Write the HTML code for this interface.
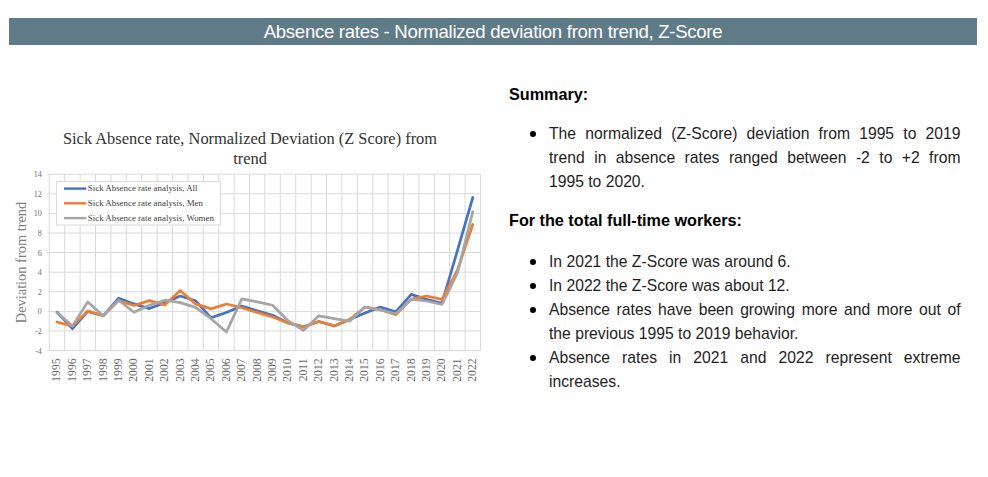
<!DOCTYPE html>
<html><head><meta charset="utf-8"><style>
html,body{margin:0;padding:0;background:#fff;width:988px;height:477px;overflow:hidden;position:relative}
.hdr{position:absolute;left:9px;top:18px;width:968px;height:27px;background:#607b88;color:#fff;font-family:"Liberation Sans",sans-serif;font-size:18.6px;letter-spacing:-0.3px;line-height:28.5px;text-align:center}
.chart{position:absolute;left:0;top:0}
.chart text{font-family:"Liberation Serif",serif}
.yl{font-size:8px;fill:#6e6e6e}
.xl{font-size:11.7px;fill:#6a6a6a}
.lg{font-size:8.9px;fill:#404040}
.tt{font-size:16.4px;fill:#333}
.at{font-size:14.4px;fill:#808080}
.txt{position:absolute;font-family:"Liberation Sans",sans-serif;font-size:15.7px;line-height:24px;color:#1e1e1e;white-space:nowrap}
.b{font-weight:bold;color:#000;font-size:16.2px}
.j{text-align:justify;text-align-last:justify;width:411.5px;white-space:normal}
.dot{position:absolute;width:6px;height:6px;border-radius:50%;background:#000}
</style></head><body>
<div class="hdr">Absence rates - Normalized deviation from trend, Z-Score</div>
<svg class="chart" width="988" height="477" viewBox="0 0 988 477"><path d="M49.3 174.2V350.6 M64.7 174.2V350.6 M80.1 174.2V350.6 M95.5 174.2V350.6 M110.9 174.2V350.6 M126.3 174.2V350.6 M141.7 174.2V350.6 M157.1 174.2V350.6 M172.5 174.2V350.6 M187.9 174.2V350.6 M203.3 174.2V350.6 M218.7 174.2V350.6 M234.1 174.2V350.6 M249.5 174.2V350.6 M264.9 174.2V350.6 M280.3 174.2V350.6 M295.7 174.2V350.6 M311.1 174.2V350.6 M326.5 174.2V350.6 M341.9 174.2V350.6 M357.3 174.2V350.6 M372.7 174.2V350.6 M388.1 174.2V350.6 M403.5 174.2V350.6 M418.9 174.2V350.6 M434.3 174.2V350.6 M449.7 174.2V350.6 M465.1 174.2V350.6 M480.5 174.2V350.6 M47.3 350.6H480.5 M47.3 331.0H480.5 M47.3 311.4H480.5 M47.3 291.8H480.5 M47.3 272.2H480.5 M47.3 252.6H480.5 M47.3 233.0H480.5 M47.3 213.4H480.5 M47.3 193.8H480.5 M47.3 174.2H480.5" stroke="#d9d9d9" stroke-width="1" fill="none"/>
<text x="41.8" y="353.6" text-anchor="end" class="yl">-4</text>
<text x="41.8" y="334.0" text-anchor="end" class="yl">-2</text>
<text x="41.8" y="314.4" text-anchor="end" class="yl">0</text>
<text x="41.8" y="294.8" text-anchor="end" class="yl">2</text>
<text x="41.8" y="275.2" text-anchor="end" class="yl">4</text>
<text x="41.8" y="255.6" text-anchor="end" class="yl">6</text>
<text x="41.8" y="236.0" text-anchor="end" class="yl">8</text>
<text x="41.8" y="216.4" text-anchor="end" class="yl">10</text>
<text x="41.8" y="196.8" text-anchor="end" class="yl">12</text>
<text x="41.8" y="177.2" text-anchor="end" class="yl">14</text>
<text transform="translate(60.4 358.4) rotate(-90)" text-anchor="end" class="xl">1995</text>
<text transform="translate(75.8 358.4) rotate(-90)" text-anchor="end" class="xl">1996</text>
<text transform="translate(91.2 358.4) rotate(-90)" text-anchor="end" class="xl">1997</text>
<text transform="translate(106.6 358.4) rotate(-90)" text-anchor="end" class="xl">1998</text>
<text transform="translate(122.0 358.4) rotate(-90)" text-anchor="end" class="xl">1999</text>
<text transform="translate(137.4 358.4) rotate(-90)" text-anchor="end" class="xl">2000</text>
<text transform="translate(152.8 358.4) rotate(-90)" text-anchor="end" class="xl">2001</text>
<text transform="translate(168.2 358.4) rotate(-90)" text-anchor="end" class="xl">2002</text>
<text transform="translate(183.6 358.4) rotate(-90)" text-anchor="end" class="xl">2003</text>
<text transform="translate(199.0 358.4) rotate(-90)" text-anchor="end" class="xl">2004</text>
<text transform="translate(214.4 358.4) rotate(-90)" text-anchor="end" class="xl">2005</text>
<text transform="translate(229.8 358.4) rotate(-90)" text-anchor="end" class="xl">2006</text>
<text transform="translate(245.2 358.4) rotate(-90)" text-anchor="end" class="xl">2007</text>
<text transform="translate(260.6 358.4) rotate(-90)" text-anchor="end" class="xl">2008</text>
<text transform="translate(276.0 358.4) rotate(-90)" text-anchor="end" class="xl">2009</text>
<text transform="translate(291.4 358.4) rotate(-90)" text-anchor="end" class="xl">2010</text>
<text transform="translate(306.8 358.4) rotate(-90)" text-anchor="end" class="xl">2011</text>
<text transform="translate(322.2 358.4) rotate(-90)" text-anchor="end" class="xl">2012</text>
<text transform="translate(337.6 358.4) rotate(-90)" text-anchor="end" class="xl">2013</text>
<text transform="translate(353.0 358.4) rotate(-90)" text-anchor="end" class="xl">2014</text>
<text transform="translate(368.4 358.4) rotate(-90)" text-anchor="end" class="xl">2015</text>
<text transform="translate(383.8 358.4) rotate(-90)" text-anchor="end" class="xl">2016</text>
<text transform="translate(399.2 358.4) rotate(-90)" text-anchor="end" class="xl">2017</text>
<text transform="translate(414.6 358.4) rotate(-90)" text-anchor="end" class="xl">2018</text>
<text transform="translate(430.0 358.4) rotate(-90)" text-anchor="end" class="xl">2019</text>
<text transform="translate(445.4 358.4) rotate(-90)" text-anchor="end" class="xl">2020</text>
<text transform="translate(460.8 358.4) rotate(-90)" text-anchor="end" class="xl">2021</text>
<text transform="translate(476.2 358.4) rotate(-90)" text-anchor="end" class="xl">2022</text>
<polyline points="57.0,312.0 72.4,328.7 87.8,311.4 103.2,315.8 118.6,298.2 134.0,303.9 149.4,308.6 164.8,302.8 180.2,296.0 195.6,300.7 211.0,317.8 226.4,312.4 241.8,306.1 257.2,310.7 272.6,315.3 288.0,322.9 303.4,326.9 318.8,321.5 334.2,325.9 349.6,319.5 365.0,312.9 380.4,307.0 395.8,311.9 411.2,294.4 426.6,299.4 442.0,303.2 457.4,250.6 472.8,197.5" fill="none" stroke="#4472c4" stroke-width="2.7" stroke-linejoin="round" stroke-linecap="round"/>
<polyline points="57.0,322.0 72.4,326.1 87.8,311.0 103.2,315.8 118.6,300.6 134.0,305.5 149.4,300.6 164.8,305.0 180.2,290.5 195.6,303.9 211.0,308.9 226.4,304.0 241.8,307.8 257.2,312.4 272.6,317.0 288.0,322.9 303.4,326.9 318.8,321.5 334.2,325.9 349.6,319.5 365.0,307.0 380.4,309.8 395.8,314.8 411.2,299.1 426.6,296.0 442.0,299.4 457.4,270.2 472.8,224.5" fill="none" stroke="#ed7d31" stroke-width="2.7" stroke-linejoin="round" stroke-linecap="round"/>
<polyline points="57.0,312.4 72.4,326.1 87.8,301.9 103.2,315.8 118.6,300.2 134.0,312.3 149.4,305.3 164.8,300.2 180.2,302.6 195.6,307.4 211.0,318.7 226.4,332.0 241.8,298.9 257.2,301.9 272.6,305.3 288.0,320.7 303.4,330.4 318.8,315.8 334.2,318.7 349.6,321.2 365.0,307.0 380.4,309.8 395.8,313.8 411.2,299.4 426.6,301.0 442.0,304.5 457.4,273.2 472.8,211.7" fill="none" stroke="#a5a5a5" stroke-width="2.7" stroke-linejoin="round" stroke-linecap="round"/>
<rect x="56.5" y="181.5" width="164" height="43.5" fill="#fff" stroke="#d9d9d9" stroke-width="1"/>
<path d="M64 188.6H86.3" stroke="#4472c4" stroke-width="2.4"/>
<text x="87.8" y="191.4" class="lg">Sick Absence rate analysis, All</text>
<path d="M64 203.3H86.3" stroke="#ed7d31" stroke-width="2.4"/>
<text x="87.8" y="206.2" class="lg">Sick Absence rate analysis, Men</text>
<path d="M64 218.1H86.3" stroke="#a5a5a5" stroke-width="2.4"/>
<text x="87.8" y="220.9" class="lg">Sick Absence rate analysis, Women</text>
<text x="250" y="144.3" text-anchor="middle" class="tt">Sick Absence rate, Normalized Deviation (Z Score) from</text>
<text x="250" y="164" text-anchor="middle" class="tt">trend</text>
<text transform="translate(26 262.5) rotate(-90)" text-anchor="middle" class="at">Deviation from trend</text></svg>
<div class="txt b" style="left:509px;top:81.56px">Summary:</div>
<div class="dot" style="left:530px;top:131.0px"></div>
<div class="txt j" style="left:549px;top:122.36px">The normalized (Z-Score) deviation from 1995 to 2019</div>
<div class="txt j" style="left:549px;top:146.36px">trend in absence rates ranged between -2 to +2 from</div>
<div class="txt" style="left:549px;top:170.16px">1995 to 2020.</div>
<div class="txt b" style="left:509px;top:208.46px">For the total full-time workers:</div>
<div class="dot" style="left:530px;top:258.9px"></div>
<div class="txt" style="left:549px;top:250.26px">In 2021 the Z-Score was around 6.</div>
<div class="dot" style="left:530px;top:282.8px"></div>
<div class="txt" style="left:549px;top:274.16px">In 2022 the Z-Score was about 12.</div>
<div class="dot" style="left:530px;top:306.9px"></div>
<div class="txt j" style="left:549px;top:298.26px">Absence rates have been growing more and more out of</div>
<div class="txt" style="left:549px;top:322.16px">the previous 1995 to 2019 behavior.</div>
<div class="dot" style="left:530px;top:355.1px"></div>
<div class="txt j" style="left:549px;top:346.46px">Absence rates in 2021 and 2022 represent extreme</div>
<div class="txt" style="left:549px;top:370.26px">increases.</div>
</body></html>
